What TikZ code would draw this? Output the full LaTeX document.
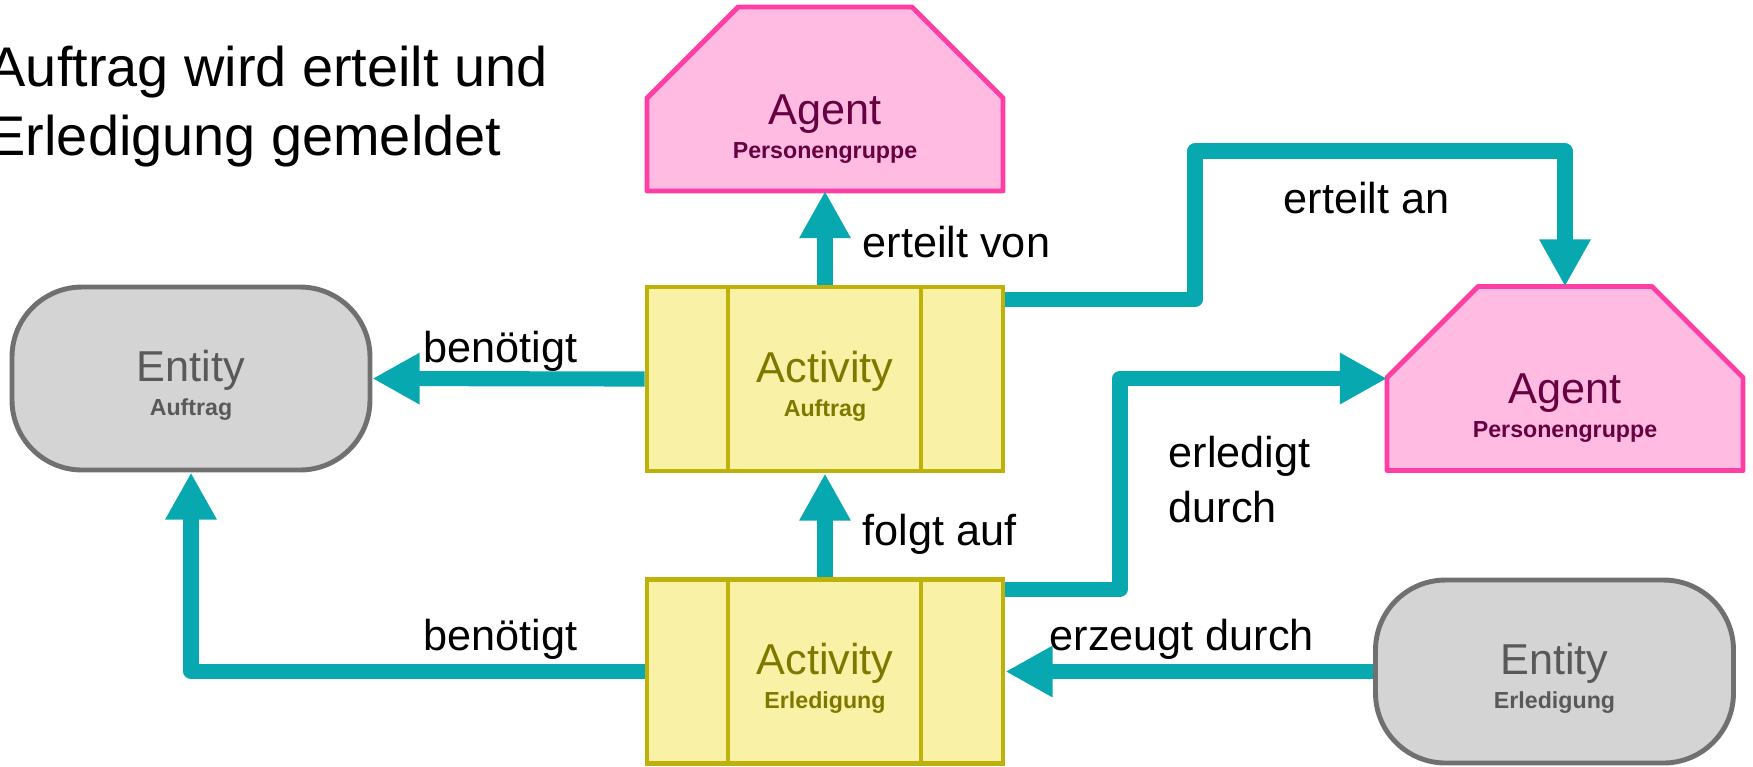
\documentclass[tikz,border=0pt]{standalone}
\usepackage{fontspec}
\setmainfont{Liberation Sans}
\usetikzlibrary{arrows.meta,backgrounds}

\definecolor{linkteal}{HTML}{07A8B0}
\definecolor{agentfill}{HTML}{FFBBE1}
\definecolor{agentline}{HTML}{FF3EA5}
\definecolor{agenttext}{HTML}{660040}
\definecolor{actfill}{HTML}{F9F2A6}
\definecolor{actline}{HTML}{BDB10A}
\definecolor{acttext}{HTML}{7F7800}
\definecolor{entfill}{HTML}{D4D4D4}
\definecolor{entline}{HTML}{707070}
\definecolor{enttext}{HTML}{595959}

% chamfered outline behind an agent node
\newcommand{\agentoutline}[1]{%
  \filldraw[fill=agentfill,draw=agentline,line width=1.4pt,line join=round]
    (#1.south west) -- ([yshift=-9.1mm]#1.north west) -- ([xshift=9.1mm]#1.north west)
    -- ([xshift=-9.1mm]#1.north east) -- ([yshift=-9.1mm]#1.north east)
    -- (#1.south east) -- cycle;}
\newcommand{\subline}[1]{\\{\fontsize{6.6}{8}\selectfont\bfseries #1}}

\begin{document}
\begin{tikzpicture}[x=0.1mm,y=-0.1mm,
  activity/.style={draw=actline,fill=actfill,line width=1.4pt,text=acttext,
    minimum width=35.6mm,minimum height=18.4mm,align=center,text height=22.5pt,
    font=\fontsize{12.3}{9.7}\selectfont,
    path picture={\draw[actline,line width=1.4pt]
      ([xshift=8.1mm]path picture bounding box.north west) -- ([xshift=8.1mm]path picture bounding box.south west)
      ([xshift=-8.2mm]path picture bounding box.north east) -- ([xshift=-8.2mm]path picture bounding box.south east);}},
  entity/.style={draw=entline,fill=entfill,line width=1.4pt,text=enttext,rounded corners=7mm,
    minimum width=35.8mm,minimum height=18.3mm,align=center,text height=22.5pt,
    font=\fontsize{12.3}{9.7}\selectfont},
  agent/.style={minimum width=35.6mm,minimum height=18.4mm,inner sep=0pt,outer sep=0pt},
  agentlabel/.style={text=agenttext,align=center,font=\fontsize{12.3}{9.7}\selectfont,yshift=-3mm},
  link/.style={draw=linkteal,line width=4.3pt,line join=round,-{Triangle[length=13.4pt,width=13.7pt]}},
  linklabel/.style={anchor=base west,inner sep=0pt,font=\fontsize{12.3}{15.4}\selectfont}]
\useasboundingbox (0,0) rectangle (1753,766);

\node[linklabel,font=\fontsize{15.9}{19.6}\selectfont,align=left] (title) at (-12,155) {Auftrag wird erteilt und\\Erledigung gemeldet};

\node[agent,label={[agentlabel]center:Agent\subline{Personengruppe}}] (a1) at (825,99) {};
\node[activity] (aa) at (825,379) {Activity\subline{Auftrag}};
\node[activity] (ae) at (825,671.5) {Activity\subline{Erledigung}};
\node[entity] (e1) at (191,378.5) {Entity\subline{Auftrag}};
\node[entity] (e2) at (1554.5,671.5) {Entity\subline{Erledigung}};
\node[agent,label={[agentlabel]center:Agent\subline{Personengruppe}}] (a2) at (1565,378.5) {};

\begin{scope}[on background layer]
\agentoutline{a1}
\agentoutline{a2}
\end{scope}

\coordinate (upturn) at (1195,151);
\coordinate (lowturn) at (1120,378.5);

\draw[link] (aa.north) -- (a1.south);
\draw[link] (aa.west) -- (e1.east);
\draw[link] ([yshift=-1.5mm]aa.north east) -| (upturn) -| (a2.north);
\draw[link] (ae.north) -- (aa.south);
\draw[link] ([yshift=-1.2mm]ae.north east) -| (lowturn) -- (a2.west);
\draw[link] (ae.west) -| (e1.south);
\draw[link] (e2.west) -- (ae.east);

\node[linklabel] (lvon) at (862,257) {erteilt von};
\node[linklabel] (lben1) at (423,362) {benötigt};
\node[linklabel] (lan) at (1283,213) {erteilt an};
\node[linklabel,align=left] (ldurch) at (1168,522) {erledigt\\durch};
\node[linklabel] (lfolgt) at (862,545) {folgt auf};
\node[linklabel] (lben2) at (423,650) {benötigt};
\node[linklabel] (lerz) at (1049,650) {erzeugt durch};
\end{tikzpicture}
\end{document}
